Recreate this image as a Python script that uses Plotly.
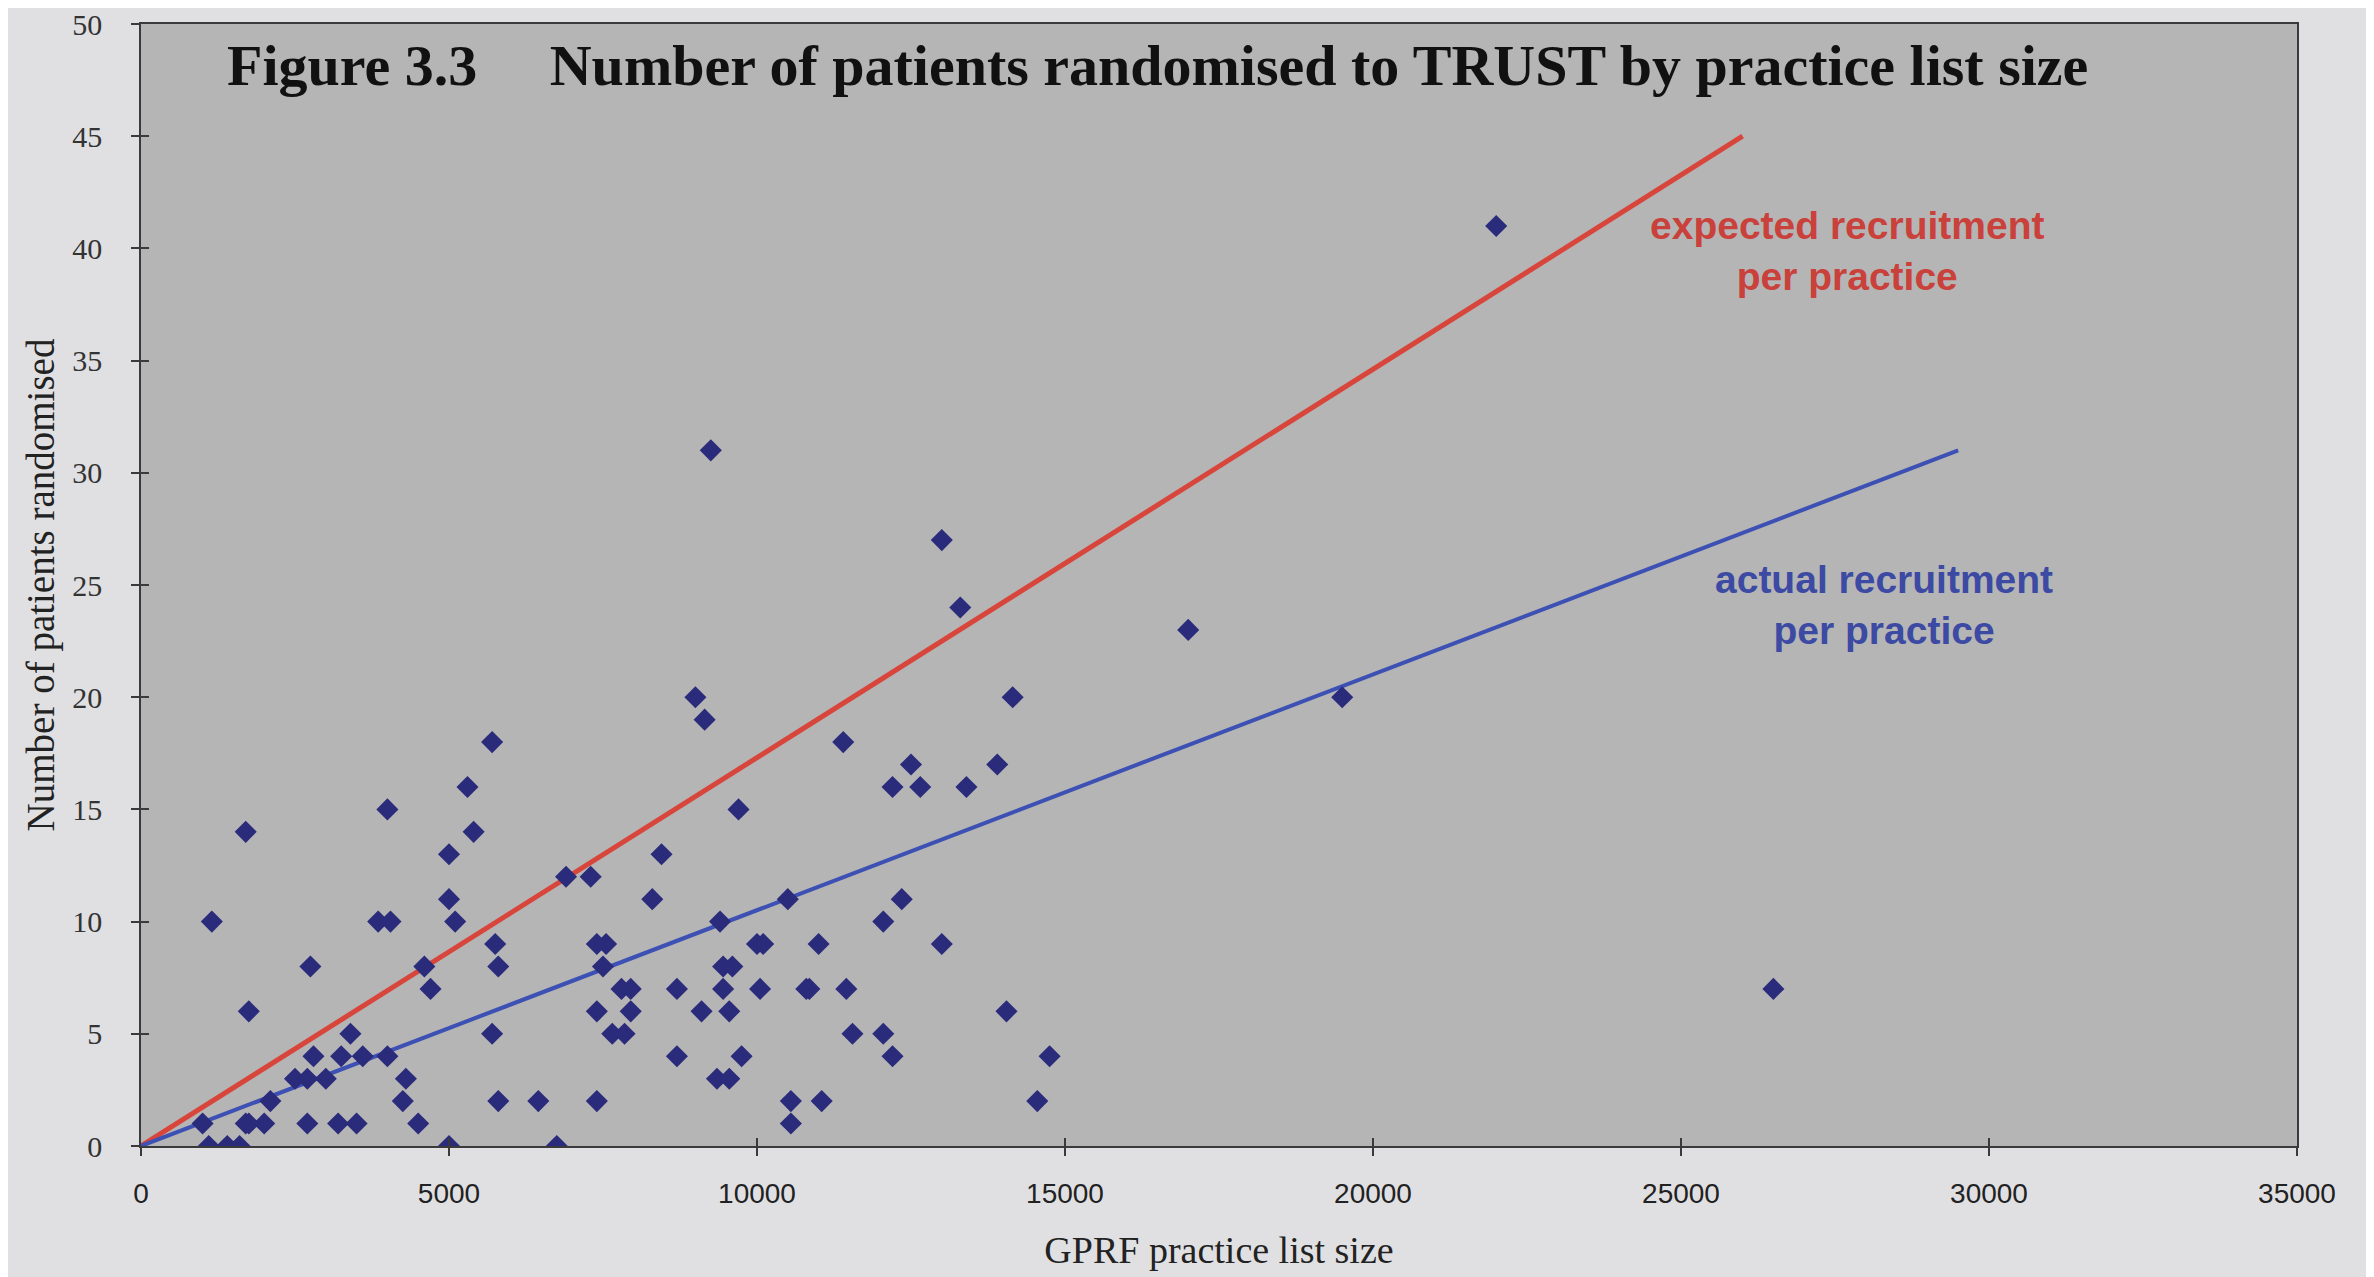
import plotly.graph_objects as go

# Data: practice list size vs patients randomised
list_size = [
    1000, 1100, 1150, 1400, 1600, 1700, 1750, 1700, 1750, 2000, 2100, 2500, 2700, 2700,
    2750, 2800, 3000, 3200, 3250, 3400, 3500, 3600, 3850, 4000, 4050, 4000, 4250, 4300,
    4500, 4600, 4700, 5000, 5000, 5000, 5100, 5300, 5400, 5700, 5700, 5750, 5800, 5800,
    6450, 6750, 6900, 7300, 7400, 7550, 7500, 7400, 7400, 7650, 7850, 7800, 7950, 7950,
    8300, 8450, 8700, 8700, 9000, 9150, 9250, 9100, 9350, 9550, 9400, 9450, 9600, 9450,
    9550, 9700, 9750, 10000, 10100, 10050, 10500, 10550, 10550,
    10800, 10850, 11000, 11050, 11400, 11450, 11550, 12050, 12050, 12200, 12200, 12350,
    12500, 12650, 13000, 13000, 13300, 13400, 13900, 14050, 14150, 14550, 14750,
    17000, 19500, 22000, 26500,
]
randomised = [
    1, 0, 10, 0, 0, 1, 1, 14, 6, 1, 2, 3, 3, 1,
    8, 4, 3, 1, 4, 5, 1, 4, 10, 15, 10, 4, 2, 3,
    1, 8, 7, 13, 11, 0, 10, 16, 14, 18, 5, 9, 8, 2,
    2, 0, 12, 12, 9, 9, 8, 6, 2, 5, 5, 7, 7, 6,
    11, 13, 7, 4, 20, 19, 31, 6, 3, 3, 10, 8, 8, 7,
    6, 15, 4, 9, 9, 7, 11, 2, 1,
    7, 7, 9, 2, 18, 7, 5, 10, 5, 16, 4, 11,
    17, 16, 27, 9, 24, 16, 17, 6, 20, 2, 4,
    23, 20, 41, 7,
]

# recruitment lines (start and end points)
expected_x = [0, 26000]
expected_y = [0, 45]
actual_x = [0, 29500]
actual_y = [0, 31]

x_ticks = [0, 5000, 10000, 15000, 20000, 25000, 30000, 35000]
x_labels = ['0', '5000', '10000', '15000', '20000', '25000', '30000', '35000']
y_ticks = [0, 5, 10, 15, 20, 25, 30, 35, 40, 45, 50]

red_line = '#d8453b'
blue_line = '#3d50b3'
marker_col = '#2b2b7c'
serif = 'Liberation Serif'
sans = 'Liberation Sans'

fig = go.Figure()

fig.add_trace(go.Scatter(x=expected_x, y=expected_y, mode='lines',
                         line=dict(color=red_line, width=5), hoverinfo='skip'))
fig.add_trace(go.Scatter(x=actual_x, y=actual_y, mode='lines',
                         line=dict(color=blue_line, width=4), hoverinfo='skip'))
fig.add_trace(go.Scatter(x=list_size, y=randomised, mode='markers',
                         marker=dict(symbol='diamond', size=17, color=marker_col)))

axis_common = dict(showline=True, linecolor='#3a3a3a', linewidth=1.5, mirror=True,
                   showgrid=False, zeroline=False, tickcolor='#3a3a3a', tickwidth=1.5,
                   ticklabeloverflow='allow', automargin=False)

# page body adds an 8px offset, margins allow for it
fig.update_layout(
    width=2374, height=1277,
    margin=dict(l=133, r=85, t=16, b=139),
    paper_bgcolor='#e0e0e3',
    plot_bgcolor='#b5b5b6',
    showlegend=False,
    xaxis=dict(range=[0, 35000], tickvals=x_ticks, ticktext=x_labels, ticks='outside',
               ticklen=8, ticklabelstandoff=14,
               tickfont=dict(family=sans, size=28, color='#222222'),
               title=dict(text='GPRF practice list size', standoff=28,
                          font=dict(family=serif, size=38, color='#222222')),
               **axis_common),
    yaxis=dict(range=[0, 50], tickvals=y_ticks, ticks='outside', ticklen=8,
               ticklabelstandoff=23,
               tickfont=dict(family=serif, size=30, color='#333333'),
               title=dict(text='Number of patients randomised', standoff=6,
                          font=dict(family=serif, size=39, color='#222222')),
               **axis_common),
    # overlay axes give the ticks that cross the axis line
    xaxis2=dict(range=[0, 35000], tickvals=x_ticks, ticks='inside', ticklen=8,
                showticklabels=False, overlaying='x', anchor='y', side='bottom',
                showgrid=False, zeroline=False, tickcolor='#3a3a3a', tickwidth=1.5),
    yaxis2=dict(range=[0, 50], tickvals=y_ticks, ticks='inside', ticklen=8,
                showticklabels=False, overlaying='y', anchor='x', side='left',
                showgrid=False, zeroline=False, tickcolor='#3a3a3a', tickwidth=1.5),
)
fig.add_trace(go.Scatter(x=[None], y=[None], xaxis='x2', yaxis='y2', hoverinfo='skip'))

fig.add_annotation(
    text='Figure 3.3\u00a0\u00a0\u00a0\u00a0\u00a0Number of patients randomised to TRUST by practice list size',
    xref='paper', yref='paper', x=0.039, y=0.963, xanchor='left', yanchor='middle',
    showarrow=False, font=dict(family=serif, size=58, color='#111111', weight='bold'))

fig.add_annotation(
    text='expected recruitment<br>per practice', x=27700, y=39.9, showarrow=False,
    align='center', font=dict(family=sans, size=39, color='#c9413a', weight='bold'))
fig.add_annotation(
    text='actual recruitment<br>per practice', x=28300, y=24.1, showarrow=False,
    align='center', font=dict(family=sans, size=39, color='#3c4aa3', weight='bold'))

fig.write_html('out.html')
